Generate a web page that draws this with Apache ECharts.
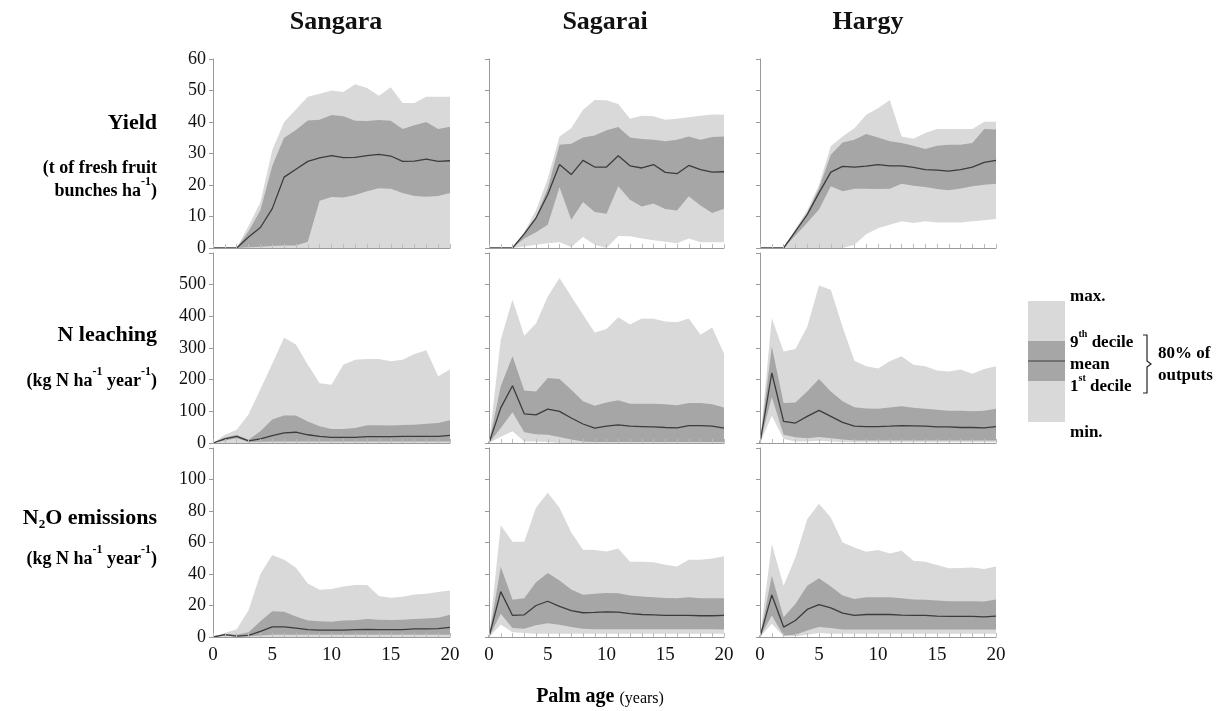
<!DOCTYPE html>
<html><head><meta charset="utf-8">
<script src="https://cdn.jsdelivr.net/npm/echarts@6/dist/echarts.min.js"></script>
<style>html,body{margin:0;padding:0;background:#fff}#c{width:1218px;height:711px}</style>
</head><body><div id="c"></div>
<script>
// ---------- DATA ----------
const years = ['0','1','2','3','4','5','6','7','8','9','10','11','12','13','14','15','16','17','18','19','20'];
const sites = ['Sangara', 'Sagarai', 'Hargy'];
const xTickLabels = ['0', '5', '10', '15', '20'];

// Yield (t of fresh fruit bunches ha-1)
const sangaraYieldMax  = [0,0,0,7,14.5,31,40,44,48,49,50,49.5,52,50.8,48.3,51,46,46,48,48,48];
const sangaraYieldD9   = [0,0,0,5.3,12,26,35,37.5,40.5,40.7,42.2,41.8,40.4,40.3,40.6,40.4,37.8,39,40,37.8,38.5];
const sangaraYieldMean = [0,0,0,3.5,6.5,12.5,22.5,25,27.5,28.6,29.3,28.7,28.8,29.3,29.7,29.2,27.5,27.6,28.2,27.5,27.7];
const sangaraYieldD1   = [0,0,0,0.2,0.4,0.6,0.8,0.8,2,15,16.2,16,16.8,18,19,18.8,17.5,16.5,16.3,16.5,17.5];
const sangaraYieldMin  = [0,0,0,0,0,0,0,0,0,0,0,0,0,0,0,0,0,0,0,0,0];

const sagaraiYieldMax  = [0,0,0,5,12,22,35.4,38,43.9,47,46.9,45.7,41,42,41.8,40.7,41,41.5,42,42.4,42.3];
const sagaraiYieldD9   = [0,0,0,4.8,10,19,32.8,33.1,35.1,35.7,37.4,38.4,35.1,34.6,34.4,33.9,34.4,35.4,34.4,35.2,35.4];
const sagaraiYieldMean = [0,0,0,4.5,9.5,17,26.5,23.3,27.8,25.7,25.7,29.3,26.1,25.4,26.5,24,23.6,26.2,24.9,24.1,24.2];
const sagaraiYieldD1   = [0,0,0,3,5,7.4,19.3,9,14.6,11.4,10.9,19.6,15.3,13.2,14.1,12.4,11.9,16.4,13.5,11.1,12.5];
const sagaraiYieldMin  = [0,0,0,0.5,1,1.5,1.8,0.3,3.5,1,0,3.8,3.7,3,2.5,2,1.5,3,1.8,1.8,1.8];

const hargyYieldMax  = [0,0,0,6,12,20,32.3,35.4,38,42.3,44.4,47,35.4,34.7,36.5,37.8,37.8,37.8,37.8,40.1,40.1];
const hargyYieldD9   = [0,0,0,5.5,11,19,29.6,33.5,34.4,36.2,35.1,33.9,33.3,32.5,31.4,32.5,32.8,32.8,33.3,37.8,37.6];
const hargyYieldMean = [0,0,0,5.3,10.6,17.5,24.1,25.9,25.7,26,26.5,26.1,26.1,25.6,24.9,24.7,24.4,24.9,25.7,27.2,27.8];
const hargyYieldD1   = [0,0,0,4,8,12.2,19.6,18,18.8,18.8,18.7,18.8,20.4,19.8,19.4,18.7,18.3,18.9,19.6,20.1,20.4];
const hargyYieldMin  = [0,0,0,0,0,0,0,0,1,4.4,6.3,7.4,8.5,7.9,8.5,8.1,8.1,8.1,8.5,8.8,9.2];

// N leaching (kg N ha-1 year-1)
const sangaraLeachMax  = [0,26,42,90,170,250,332,311,247,189,184,247,263,265,265,258,263,281,293,211,232];
const sangaraLeachD9   = [0,17,25,10,37,74,87,87,68,53,44,44,47,56,56,55,57,58,61,63,72];
const sangaraLeachMean = [0,13,21,7,13,23,32,34,26,21,18,18,18,20,20,20,21,21,21,21,24];
const sangaraLeachD1   = [0,8,15,3,4,5,5,5,5,5,5,5,5,5,5,5,5,5,5,5,5];
const sangaraLeachMin  = [0,0,0,0,0,0,0,0,0,0,0,0,0,0,0,0,0,0,0,0,0];

const sagaraiLeachMax  = [0,326,453,339,377,463,521,463,405,349,360,397,374,393,392,384,381,393,342,365,282];
const sagaraiLeachD9   = [0,179,274,166,163,205,202,168,132,118,128,135,124,124,124,122,119,126,126,122,112];
const sagaraiLeachMean = [0,111,181,92,89,107,100,79,60,47,53,57,53,52,51,49,48,55,55,53,47];
const sagaraiLeachD1   = [0,47,97,34,28,26,19,11,5,3,3,3,3,3,3,3,3,3,3,3,3];
const sagaraiLeachMin  = [0,20,37,5,5,3,0,0,0,0,0,0,0,0,0,0,0,0,0,0,0];

const hargyLeachMax  = [0,395,289,297,366,497,484,366,260,242,235,258,274,247,242,229,226,232,219,234,242];
const hargyLeachD9   = [0,305,126,128,163,202,163,132,113,109,108,112,116,111,108,105,102,102,100,102,108];
const hargyLeachMean = [0,221,68,63,84,103,84,65,53,52,52,53,55,54,53,51,51,49,49,48,52];
const hargyLeachD1   = [0,145,26,18,15,19,15,11,8,8,8,8,8,8,8,8,8,8,8,8,8];
const hargyLeachMin  = [0,86,13,5,5,7,5,3,2,2,2,2,2,2,2,2,2,2,2,2,2];

// N2O emissions (kg N ha-1 year-1)
const sangaraN2OMax  = [0,2.5,5,17,40,52,49,44,34,30,30.5,32,33,33,26,25,25.5,27,27.5,28.5,29.5];
const sangaraN2OD9   = [0,2,1.5,3,10,16.3,16,13,10.4,10,9.7,10.4,10.6,11.4,11,10.8,11,11.4,11.7,12.3,14.2];
const sangaraN2OMean = [0,1.5,0.5,1,3.6,6.4,6.4,5.7,4.7,4.4,4.4,4.4,4.7,4.9,4.7,4.7,4.7,5.1,5.1,5.3,6.1];
const sangaraN2OD1   = [0,1,0.3,0.5,1,1.5,1.5,1.5,1.5,1.5,1.5,1.5,1.5,1.5,1.5,1.5,1.5,1.5,1.5,1.5,1.5];
const sangaraN2OMin  = [0,0,0,0,0,0,0,0,0,0,0,0,0,0,0,0,0,0,0,0,0];

const sagaraiN2OMax  = [0,71,60.4,60.4,82,91.6,82,66.3,55.4,55.2,54.3,56.2,47.8,47.8,47.4,45.9,44.8,49,49,49.9,51.2];
const sagaraiN2OD9   = [0,44.6,23.6,24.6,34.7,40.6,35.8,30.1,26.9,27.4,28,27.8,26.3,25.7,25.3,24.8,24.6,25.3,24.6,24.6,24.6];
const sagaraiN2OMean = [0,28.8,13.7,14.1,20,22.7,19.4,16.8,15.4,15.6,16,15.8,14.9,14.3,14.1,13.7,13.7,13.7,13.5,13.5,13.7];
const sagaraiN2OD1   = [0,14.7,5.7,5.3,7.4,8.8,7.8,6.3,5.3,5,5,5,5,5,5,5,5,5,5,5,4.8];
const sagaraiN2OMin  = [0,8,3,2.5,2,2,2,2,2,2,2,2,2,2,2,2,2,2,2,2,2];

const hargyN2OMax  = [0,59,32.6,50.5,74.7,84.6,75.8,60,56.8,54.1,55.2,53,54.7,48.4,47.8,45.7,43.6,43.8,44.2,43.2,44.8];
const hargyN2OD9   = [0,38.9,12.6,21,32.6,37.3,32,26.3,24.2,25.3,25.3,25.3,24.6,23.8,23.6,23.2,22.7,22.7,22.7,22.5,23.8];
const hargyN2OMean = [0,26.7,6.3,10.5,17.5,20.6,18.5,15.2,13.7,14.3,14.3,14.3,13.9,13.7,13.7,13.3,13.1,13.1,13.1,12.8,13.3];
const hargyN2OD1   = [0,13.7,1,1.5,4.2,6.3,5.7,4.8,4.8,4.8,4.8,4.8,4.8,4.8,4.8,4.8,4.8,4.8,4.8,4.8,4.8];
const hargyN2OMin  = [0,8.4,0.5,0.5,1.5,2.5,2,2,2,2,2,2,2,2,2,2,2,2,2,2,2];

// y-axis scales per row
const yMax = [60, 600, 120];
const yStep = [10, 100, 20];

// ---------- BUILD ----------
const panels = [
  [[sangaraYieldMin,sangaraYieldD1,sangaraYieldMean,sangaraYieldD9,sangaraYieldMax],
   [sagaraiYieldMin,sagaraiYieldD1,sagaraiYieldMean,sagaraiYieldD9,sagaraiYieldMax],
   [hargyYieldMin,hargyYieldD1,hargyYieldMean,hargyYieldD9,hargyYieldMax]],
  [[sangaraLeachMin,sangaraLeachD1,sangaraLeachMean,sangaraLeachD9,sangaraLeachMax],
   [sagaraiLeachMin,sagaraiLeachD1,sagaraiLeachMean,sagaraiLeachD9,sagaraiLeachMax],
   [hargyLeachMin,hargyLeachD1,hargyLeachMean,hargyLeachD9,hargyLeachMax]],
  [[sangaraN2OMin,sangaraN2OD1,sangaraN2OMean,sangaraN2OD9,sangaraN2OMax],
   [sagaraiN2OMin,sagaraiN2OD1,sagaraiN2OMean,sagaraiN2OD9,sagaraiN2OMax],
   [hargyN2OMin,hargyN2OD1,hargyN2OMean,hargyN2OD9,hargyN2OMax]]
];

const FONT = '"Liberation Serif", "Times New Roman", serif';
const LIGHT = '#d9d9d9', DARK = '#a6a6a6', MEANC = '#3c3c3c', AXISC = '#9a9a9a';
const colLeft = [213, 489, 760], colWidth = [237, 235, 236];
const rowTop = [59, 253, 448], rowHeight = [189, 190, 189];

const grid = [], xAxis = [], yAxis = [], series = [];
for (let r = 0; r < 3; r++) {
  for (let c = 0; c < 3; c++) {
    const i = r * 3 + c;
    grid.push({left: colLeft[c], top: rowTop[r], width: colWidth[c], height: rowHeight[r], containLabel: false});
    xAxis.push({
      type: 'category', gridIndex: i, data: years, boundaryGap: false, z: 5,
      axisLine: {show: true, lineStyle: {color: AXISC, width: 1}},
      axisTick: {show: true, inside: true, length: 4, interval: 0, lineStyle: {color: '#bdbdbd'}},
      axisLabel: {show: r === 2, interval: 4, fontFamily: FONT, fontSize: 19, color: '#111', margin: 9},
      splitLine: {show: false}
    });
    yAxis.push({
      type: 'value', gridIndex: i, min: 0, max: yMax[r], interval: yStep[r], z: 5,
      axisLine: {show: true, lineStyle: {color: AXISC, width: 1}},
      axisTick: {show: true, length: 4, lineStyle: {color: AXISC}},
      axisLabel: {show: c === 0, fontFamily: FONT, fontSize: 18, color: '#111', margin: 7,
                  formatter: v => (r > 0 && v === yMax[r]) ? '' : String(v)},
      splitLine: {show: false}
    });
    const [mn, d1, mean, d9, mx] = panels[r][c];
    const base = {type: 'line', xAxisIndex: i, yAxisIndex: i, symbol: 'none', silent: true, smooth: false};
    series.push(Object.assign({}, base, {stack: 'outer' + i, data: mn, lineStyle: {width: 0}}));
    series.push(Object.assign({}, base, {stack: 'outer' + i, data: mx.map((v, k) => Math.max(0, v - mn[k])),
      lineStyle: {width: 0}, areaStyle: {color: LIGHT, opacity: 1}}));
    series.push(Object.assign({}, base, {stack: 'inner' + i, data: d1, lineStyle: {width: 0}}));
    series.push(Object.assign({}, base, {stack: 'inner' + i, data: d9.map((v, k) => Math.max(0, v - d1[k])),
      lineStyle: {width: 0}, areaStyle: {color: DARK, opacity: 1}}));
    series.push(Object.assign({}, base, {data: mean, z: 3, lineStyle: {color: MEANC, width: 1.3}}));
  }
}

function txt(x, y, text, rich, align) {
  return {type: 'text', x: x, y: y, silent: true,
    style: {text: text, rich: rich, align: align || 'right', verticalAlign: 'middle',
            textAlign: align || 'right', textVerticalAlign: 'middle'}};
}
const richLbl = {
  b: {fontFamily: FONT, fontSize: 22, fontWeight: 'bold', color: '#111', lineHeight: 26},
  n: {fontFamily: FONT, fontSize: 18, fontWeight: 'bold', color: '#111', lineHeight: 24, verticalAlign: 'bottom'},
  sup: {fontFamily: FONT, fontSize: 12, fontWeight: 'bold', color: '#111', lineHeight: 24, verticalAlign: 'top'},
  sub: {fontFamily: FONT, fontSize: 13, fontWeight: 'bold', color: '#111', lineHeight: 26, verticalAlign: 'bottom'}
};
const richLeg = {
  n: {fontFamily: FONT, fontSize: 17, fontWeight: 'bold', color: '#111', lineHeight: 22, verticalAlign: 'bottom'},
  sup: {fontFamily: FONT, fontSize: 10, fontWeight: 'bold', color: '#111', lineHeight: 22, verticalAlign: 'top'}
};
const graphic = [];
// column titles
const titleX = [336, 605, 868];
sites.forEach((s, k) => graphic.push({type: 'text', x: titleX[k], y: 22, silent: true,
  style: {text: s, font: 'bold 26px ' + FONT, fill: '#111', align: 'center', verticalAlign: 'middle',
          textAlign: 'center', textVerticalAlign: 'middle'}}));
// row labels
graphic.push(txt(157, 123, '{b|Yield}', richLbl));
graphic.push(txt(157, 165, '{n|(t of fresh fruit}', richLbl));
graphic.push(txt(157, 188, '{n|bunches ha}{sup|-1}{n|)}', richLbl));
graphic.push(txt(157, 335, '{b|N leaching}', richLbl));
graphic.push(txt(157, 378, '{n|(kg N ha}{sup|-1}{n| year}{sup|-1}{n|)}', richLbl));
graphic.push(txt(157, 518, '{b|N}{sub|2}{b|O emissions}', richLbl));
graphic.push(txt(157, 556, '{n|(kg N ha}{sup|-1}{n| year}{sup|-1}{n|)}', richLbl));
// x axis title
graphic.push(txt(600, 695, '{b|Palm age }{s|(years)}', {
  b: {fontFamily: FONT, fontSize: 20, fontWeight: 'bold', color: '#111', lineHeight: 24, verticalAlign: 'bottom'},
  s: {fontFamily: FONT, fontSize: 16, color: '#111', lineHeight: 24, verticalAlign: 'bottom'}
}, 'center'));
// legend
graphic.push({type: 'rect', silent: true, shape: {x: 1028, y: 301, width: 37, height: 121}, style: {fill: LIGHT}});
graphic.push({type: 'rect', silent: true, shape: {x: 1028, y: 341, width: 37, height: 40}, style: {fill: DARK}});
graphic.push({type: 'line', silent: true, shape: {x1: 1028, y1: 361, x2: 1065, y2: 361}, style: {stroke: MEANC, lineWidth: 1.2}});
graphic.push(txt(1070, 294, '{n|max.}', richLeg, 'left'));
graphic.push(txt(1070, 340, '{n|9}{sup|th}{n| decile}', richLeg, 'left'));
graphic.push(txt(1070, 362, '{n|mean}', richLeg, 'left'));
graphic.push(txt(1070, 384, '{n|1}{sup|st}{n| decile}', richLeg, 'left'));
graphic.push(txt(1070, 430, '{n|min.}', richLeg, 'left'));
graphic.push({type: 'polyline', silent: true,
  shape: {points: [[1143, 335], [1147, 335], [1147, 361], [1151, 364], [1147, 367], [1147, 393], [1143, 393]]},
  style: {stroke: '#222', lineWidth: 1.2, fill: null}});
graphic.push(txt(1158, 351, '{n|80% of}', richLeg, 'left'));
graphic.push(txt(1158, 373, '{n|outputs}', richLeg, 'left'));

const chart = echarts.init(document.getElementById('c'), null, {renderer: 'canvas'});
chart.setOption({animation: false, backgroundColor: '#fff', grid, xAxis, yAxis, series, graphic});
</script></body></html>
